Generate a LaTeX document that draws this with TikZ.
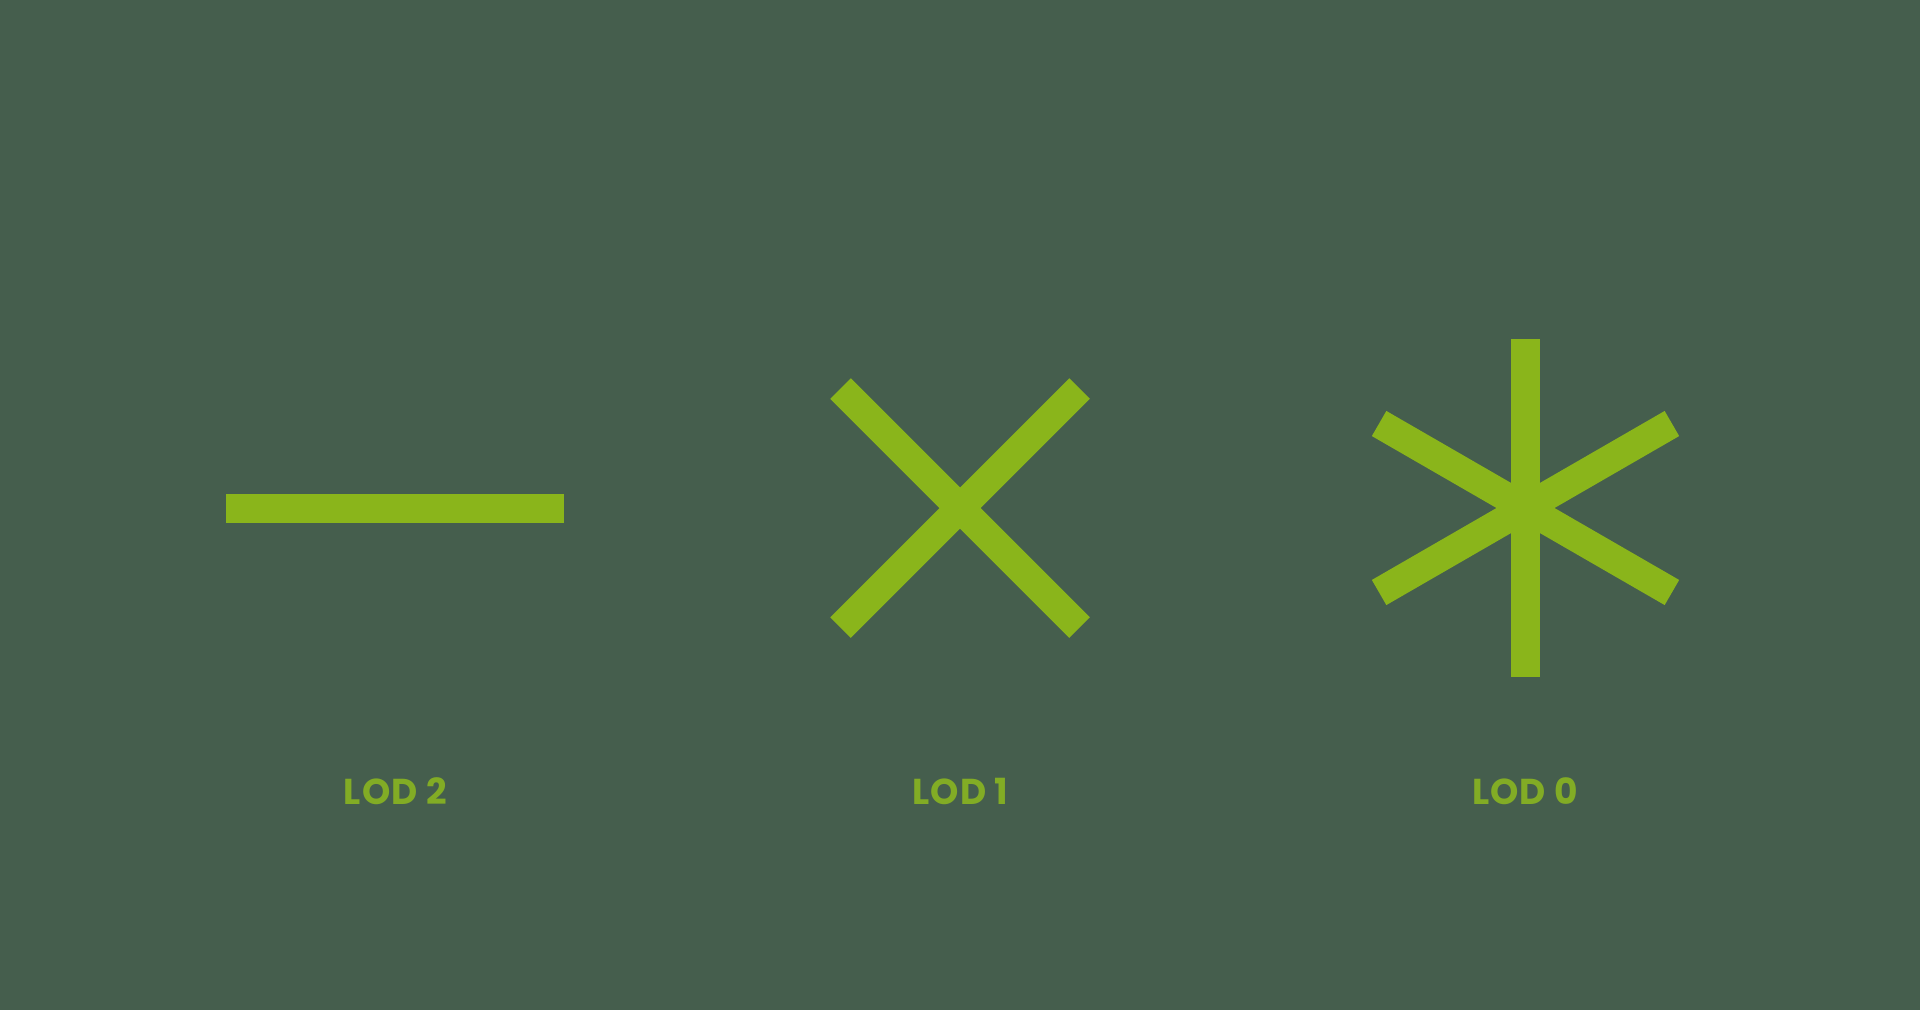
\documentclass[tikz,border=0pt]{standalone}
\usetikzlibrary{calc}
\usepackage{fontspec}
\setmainfont{Poppins}[UprightFont=* Bold, BoldFont=* Bold, LetterSpace=3]
\definecolor{bg}{HTML}{455E4D}
\definecolor{bar}{HTML}{8AB51B}
\definecolor{lbl}{HTML}{82AC25}
\begin{document}
\begin{tikzpicture}[x=1pt,y=-1pt,
  stroke/.style={draw=bar,line width=29pt,line cap=butt},
  lodlabel/.style={text=lbl,font=\fontsize{36}{36}\selectfont,inner sep=0pt,anchor=center}]
\fill[bg] (0,0) rectangle (1920,1010);
\useasboundingbox (0,0) rectangle (1920,1010);
% LOD 2
\coordinate (a1) at (226,508);
\coordinate (a2) at (564,508);
\draw[stroke] (a1) -- (a2);
% LOD 1
\coordinate (c1) at (960,508);
\draw[stroke] ($(c1)+(-119.5,-119.5)$) -- ($(c1)+(119.5,119.5)$);
\draw[stroke] ($(c1)+(-119.5,119.5)$) -- ($(c1)+(119.5,-119.5)$);
% LOD 0
\coordinate (c0) at (1525.5,508);
\draw[stroke] ($(c0)+(0,-169)$) -- ($(c0)+(0,169)$);
\draw[stroke] ($(c0)+(-146.4,-84.5)$) -- ($(c0)+(146.4,84.5)$);
\draw[stroke] ($(c0)+(-146.4,84.5)$) -- ($(c0)+(146.4,-84.5)$);
\node[lodlabel] (l2) at (395.5,791) {LOD 2};
\node[lodlabel] (l1) at (960.5,791) {LOD 1};
\node[lodlabel] (l0) at (1525,791) {LOD 0};
\end{tikzpicture}
\end{document}
